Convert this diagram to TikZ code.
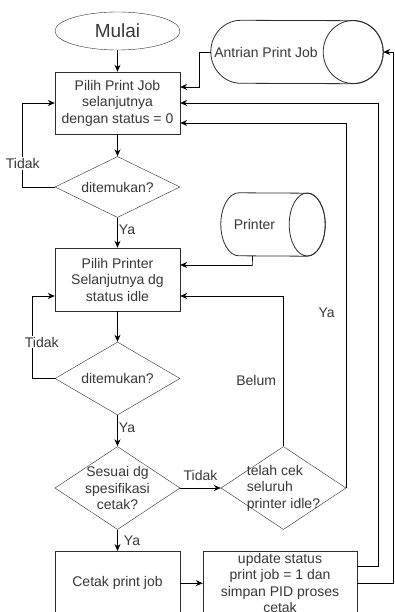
\documentclass[tikz,border=0pt]{standalone}
\usepackage{fontspec}
\setmainfont{Liberation Sans}
\usetikzlibrary{arrows.meta,positioning,shapes.geometric,calc}
\definecolor{linegray}{RGB}{45,45,45}
\definecolor{textgray}{RGB}{55,55,55}

\begin{document}
\begin{tikzpicture}[
    x=1pt, y=-1pt,
    font=\fontsize{14}{16.5}\selectfont,
    every node/.style={text=textgray},
    >={Stealth[length=7pt,width=6pt]},
    terminal/.style={draw=linegray, ellipse, minimum width=125pt, minimum height=38pt, inner sep=0pt, font=\fontsize{19}{22}\selectfont},
    box/.style={draw=linegray, align=center, minimum width=125pt, minimum height=62pt, inner sep=1pt},
    decision/.style={draw=linegray, diamond, aspect=2, minimum width=125pt, inner sep=0pt},
    store/.style={rectangle, minimum height=63pt, inner sep=0pt},
    storeline/.style={draw=linegray, line width=0.8pt},
    arrow/.style={->, draw=black, line width=0.9pt},
    lbl/.style={inner sep=1pt}
]
\useasboundingbox (0,0) rectangle (394,612);

% ===================== MAIN FLOW =====================
\node[terminal] (start) at (117.5,31) {Mulai};
\node[box] (pickjob) at (117.5,103) {Pilih Print Job\\selanjutnya\\dengan status = 0};
\node[decision, minimum height=61pt] (jobfound) at (117.5,187) {ditemukan?};
\node[box, minimum height=63pt] (pickprn) at (117.5,279.5) {Pilih Printer\\Selanjutnya dg\\status idle};
\node[decision, minimum height=73pt] (prnfound) at (117.5,378.5) {ditemukan?};
\node[decision, minimum height=83pt,
      label={[align=center]center:Sesuai dg\\spesifikasi\\cetak?}] (match) at (117.5,488) {};
\node[box, minimum height=64pt, anchor=north] (print) at (117.5,551) {Cetak print job};

% ===================== RIGHT SIDE =====================
\node[decision, minimum height=83pt,
      label={[align=left]center:telah cek\\seluruh\\printer idle?}] (allchk) at (283.5,488) {};
\node[box, minimum width=154pt, minimum height=64pt, anchor=north] (update) at (280,551)
    {update status\\print job = 1 dan\\simpan PID proses\\cetak};

% ===================== STORES =====================
\node[store, minimum width=172pt, label={[xshift=-31pt]center:Antrian Print Job}] (queue) at (297,52) {};
\node[store, minimum width=104pt, label={[xshift=-18.5pt]center:Printer}] (printer) at (273,224.5) {};

% cylinder outlines
\draw[storeline] ([xshift=30pt]queue.north west)
    arc[start angle=90, end angle=270, x radius=30pt, y radius=31.5pt]
    -- ([xshift=-30pt]queue.south east)
    arc[start angle=-90, end angle=90, x radius=30pt, y radius=31.5pt] -- cycle;
\draw[storeline] ([xshift=-30pt]queue.east) ellipse[x radius=30pt, y radius=31.5pt];

\draw[storeline] ([xshift=18pt]printer.north west)
    arc[start angle=90, end angle=270, x radius=18pt, y radius=31.5pt]
    -- ([xshift=-18pt]printer.south east)
    arc[start angle=-90, end angle=90, x radius=18pt, y radius=31.5pt] -- cycle;
\draw[storeline] ([xshift=-18pt]printer.east) ellipse[x radius=18pt, y radius=31.5pt];

% ===================== ARROWS =====================
\draw[arrow] (start) -- (pickjob);
\draw[arrow] (pickjob) -- (jobfound);
\draw[arrow] (jobfound) -- node[lbl, right, pos=0.4] {Ya} (pickprn);
\draw[arrow] (jobfound.west) -- ++(-32,0) |- node[lbl, fill=white, pos=0.14] {Tidak} (pickjob.west);

\draw[arrow] (pickprn) -- (prnfound);
\draw[arrow] (prnfound.west) -- ++(-22,0) |- node[lbl, fill=white, pos=0.22, xshift=9pt] {Tidak} ([yshift=-16.5pt]pickprn.west);
\draw[arrow] (prnfound) -- node[lbl, right, pos=0.4] {Ya} (match);
\draw[arrow] (match) -- node[lbl, right, xshift=5pt] {Ya} (print);
\draw[arrow] (match.east) -- node[lbl, above=6pt] {Tidak} (allchk.west);

\draw[arrow] (allchk.north) |- node[lbl, left=6pt, pos=0.22] {Belum} ([yshift=-16.5pt]pickprn.east);
\draw[arrow] (allchk.east) |- node[lbl, left=10pt, pos=0.24] {Ya} ([yshift=-20pt]pickjob.east);

\draw[arrow] (print.east) -- (print.east -| update.west);
\draw[arrow] ([yshift=-15pt]update.north east) -- ++(21,0) |- (pickjob.east);
\draw[arrow] ([yshift=-32pt]update.north east) -- ++(36,0) |- (queue.east);

\draw[arrow] (queue.west) -- ++(-11,0) |- ([yshift=16pt]pickjob.east);
\draw[arrow] ([xshift=-21pt]printer.south) -- ++(0,9) |- ([yshift=14.5pt]pickprn.east);

\end{tikzpicture}
\end{document}
